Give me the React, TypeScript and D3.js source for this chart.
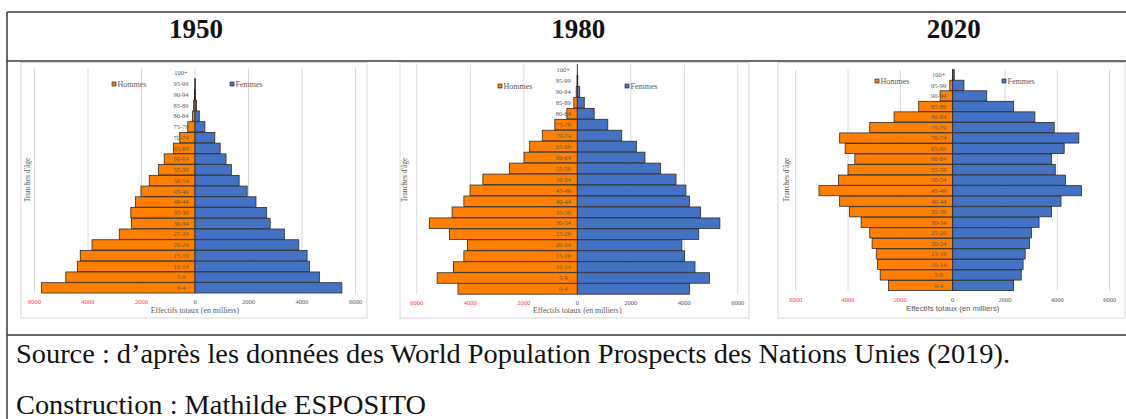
import { scaleBand, scaleLinear } from "d3";

// age groups, bottom to top
const ages = [
  "0-4", "5-9", "10-14", "15-19", "20-24", "25-29", "30-34", "35-39", "40-44", "45-49",
  "50-54", "55-59", "60-64", "65-69", "70-74", "75-79", "80-84", "85-89", "90-94", "95-99", "100+",
];

// thousands of people, same order as ages
const men1950 = [5740, 4830, 4390, 4290, 3850, 2830, 2370, 2400, 2230, 2020, 1710, 1370, 1150, 810, 570, 270, 90, 50, 20, 5, 0];
const women1950 = [5490, 4650, 4280, 4190, 3880, 3340, 2810, 2680, 2280, 1950, 1650, 1360, 1160, 940, 740, 370, 160, 60, 20, 10, 0];
const men1980 = [4460, 5240, 4630, 4240, 4110, 4780, 5530, 4680, 4240, 4010, 3530, 2530, 1990, 1780, 1310, 840, 390, 130, 40, 10, 0];
const women1980 = [4190, 4940, 4400, 4010, 3910, 4540, 5330, 4610, 4190, 4060, 3690, 3110, 2530, 2210, 1660, 1140, 630, 260, 90, 20, 5];
const men2020 = [2450, 2770, 2870, 2920, 3080, 3170, 3500, 3940, 4320, 5110, 4370, 4000, 3740, 4110, 4320, 3170, 2240, 1300, 480, 110, 10];
const women2020 = [2330, 2620, 2690, 2770, 2940, 3010, 3300, 3780, 4140, 4920, 4310, 3920, 3780, 4260, 4820, 3880, 3140, 2330, 1300, 430, 60];

const years = ["1950", "1980", "2020"];
const xTicks = [-6000, -4000, -2000, 0, 2000, 4000, 6000];

const ORANGE = "#ff8000";
const BLUE = "#4472c4";
const GRID = "#d9d9d9";
const TXT = "#595959";

interface PanelLayout {
  frameX0: number;
  frameX1: number;
  zeroX: number;
  half: number;
  top: number;
  bottom: number;
  tickY: number;
  titleY: number;
  yTitleX: number;
  legendY: number;
  legendMenX: number;
  legendWomenX: number;
  sansTitle?: boolean;
}

const layouts: PanelLayout[] = [
  { frameX0: 21, frameX1: 367, zeroX: 195, half: 160.5, top: 68, bottom: 293, tickY: 304, titleY: 313, yTitleX: 30, legendY: 84, legendMenX: 114, legendWomenX: 232 },
  { frameX0: 400, frameX1: 749, zeroX: 577.3, half: 160.5, top: 64.5, bottom: 294.2, tickY: 305, titleY: 312.5, yTitleX: 407, legendY: 86, legendMenX: 500, legendWomenX: 627 },
  { frameX0: 778, frameX1: 1125, zeroX: 952.7, half: 157, top: 69.7, bottom: 290.6, tickY: 302, titleY: 310.5, yTitleX: 789, legendY: 81, legendMenX: 877, legendWomenX: 1004, sansTitle: true },
];

interface PyramidProps {
  men: number[];
  women: number[];
  layout: PanelLayout;
}

function Pyramid({ men, women, layout }: PyramidProps) {
  const { zeroX, half, top, bottom } = layout;
  const sx = scaleLinear().domain([-6000, 6000]).range([zeroX - half, zeroX + half]);
  const sy = scaleBand<string>()
    .domain([...ages].reverse())
    .range([top, bottom])
    .paddingInner(0.04);
  const bw = sy.bandwidth();
  const serif = "'Liberation Serif', 'Times New Roman', serif";

  return (
    <g>
      <rect
        x={layout.frameX0}
        y={62.5}
        width={layout.frameX1 - layout.frameX0}
        height={318 - 62.5}
        fill="#fff"
        stroke={GRID}
        strokeWidth={1}
      />
      {xTicks.map((t) => (
        <line key={`g${t}`} x1={sx(t)} x2={sx(t)} y1={top} y2={bottom} stroke={GRID} strokeWidth={1} />
      ))}
      {ages.map((a, i) => (
        <g key={`b-${a}`}>
          <rect
            x={sx(-men[i])}
            y={sy(a)}
            width={sx(0) - sx(-men[i])}
            height={bw}
            fill={ORANGE}
            stroke="#2b2b2b"
            strokeWidth={0.8}
          />
          <rect
            x={sx(0)}
            y={sy(a)}
            width={sx(women[i]) - sx(0)}
            height={bw}
            fill={BLUE}
            stroke="#2b2b2b"
            strokeWidth={0.8}
          />
        </g>
      ))}
      {ages.map((a) => (
        <text
          key={`l-${a}`}
          x={zeroX - 14}
          y={(sy(a) ?? 0) + bw / 2 + 2.3}
          textAnchor="middle"
          fontSize={6.5}
          fontFamily={serif}
          fill={TXT}
        >
          {a}
        </text>
      ))}
      {xTicks.map((t) => (
        <text
          key={`t${t}`}
          x={sx(t)}
          y={layout.tickY}
          textAnchor="middle"
          fontSize={6.5}
          fontFamily={serif}
          fill={t < 0 ? "#ff3b3b" : TXT}
        >
          {Math.abs(t)}
        </text>
      ))}
      <text
        x={zeroX}
        y={layout.titleY}
        textAnchor="middle"
        fontSize={7.8}
        fontFamily={layout.sansTitle ? "'Liberation Sans', Arial, sans-serif" : serif}
        fill={TXT}
      >
        Effectifs totaux (en milliers)
      </text>
      <text
        transform={`translate(${layout.yTitleX},180) rotate(-90)`}
        textAnchor="middle"
        fontSize={7.5}
        fontFamily={serif}
        fill={TXT}
      >
        Tranches d'âge
      </text>
      <rect x={layout.legendMenX - 2} y={layout.legendY - 2} width={4} height={4} fill={ORANGE} stroke="#333" strokeWidth={0.7} />
      <text x={layout.legendMenX + 3.5} y={layout.legendY + 2.6} fontSize={8} fontFamily={serif} fill={TXT}>
        Hommes
      </text>
      <rect x={layout.legendWomenX - 2} y={layout.legendY - 2} width={4} height={4} fill={BLUE} stroke="#333" strokeWidth={0.7} />
      <text x={layout.legendWomenX + 3.5} y={layout.legendY + 2.6} fontSize={8} fontFamily={serif} fill={TXT}>
        Femmes
      </text>
    </g>
  );
}

export default function App() {
  const series = [
    { men: men1950, women: women1950 },
    { men: men1980, women: women1980 },
    { men: men2020, women: women2020 },
  ];
  const serif = "'Liberation Serif', 'Times New Roman', serif";
  const lineColor = "#3a3a3a";

  return (
    <svg
      width={1126}
      height={419}
      style={{ position: "absolute", left: 0, top: 0, background: "#fff" }}
    >
      <rect x={0} y={0} width={1126} height={419} fill="#fff" />
      {/* table lines */}
      <line x1={7} x2={1126} y1={12} y2={12} stroke={lineColor} strokeWidth={1.5} />
      <line x1={7} x2={1126} y1={61} y2={61} stroke={lineColor} strokeWidth={1.5} />
      <line x1={7} x2={1126} y1={335} y2={335} stroke={lineColor} strokeWidth={1.5} />
      <line x1={7} x2={7} y1={12} y2={419} stroke={lineColor} strokeWidth={1.5} />

      {years.map((y, i) => (
        <text
          key={y}
          x={layouts[i].zeroX + 1}
          y={38}
          textAnchor="middle"
          fontSize={27}
          fontWeight="bold"
          fontFamily={serif}
          fill="#111"
        >
          {y}
        </text>
      ))}

      {series.map((s, i) => (
        <Pyramid key={years[i]} men={s.men} women={s.women} layout={layouts[i]} />
      ))}

      <text
        x={16}
        y={363}
        fontSize={28}
        fontFamily={serif}
        fill="#111"
        textLength={994}
        lengthAdjust="spacingAndGlyphs"
      >
        Source : d’après les données des World Population Prospects des Nations Unies (2019).
      </text>
      <text
        x={16}
        y={414}
        fontSize={28}
        fontFamily={serif}
        fill="#111"
        textLength={410}
        lengthAdjust="spacingAndGlyphs"
      >
        Construction : Mathilde ESPOSITO
      </text>
    </svg>
  );
}
